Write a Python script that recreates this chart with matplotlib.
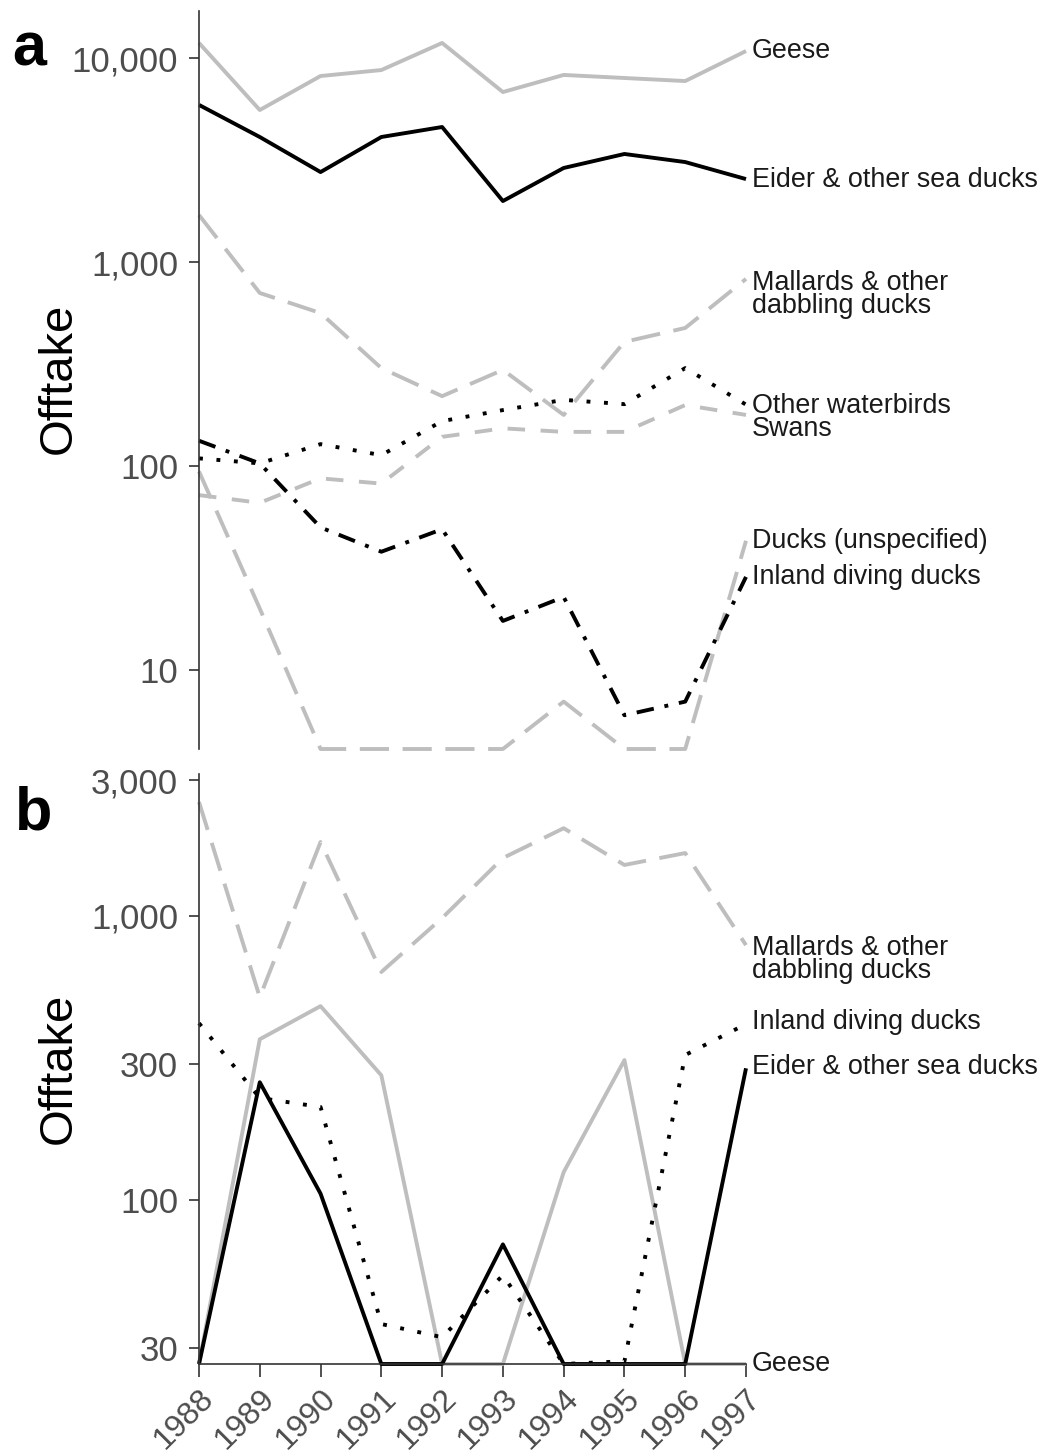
"Waterbird offtake, two log-scale panels"
import matplotlib
matplotlib.use("Agg")
import matplotlib.pyplot as plt
from matplotlib.ticker import FixedLocator, NullLocator

plt.rcParams["font.family"] = ["Liberation Sans", "DejaVu Sans"]

years = list(range(1988, 1998))

# panel a
a_floor = 4.1
a_geese = [11850, 5560, 8160, 8730, 11850, 6810, 8260, 7980, 7710, 10820]
a_eider = [5890, 4100, 2760, 4100, 4590, 1990, 2890, 3385, 3090, 2550]
a_mallards = [1700, 705, 562, 302, 220, 296, 178, 406, 475, 826]
a_other = [109, 103, 128, 113, 166, 188, 211, 201, 302, 200]
a_swans = [72, 66, 87, 82, 139, 153, 147, 147, 199, 178]
a_ducks = [94, 20, a_floor, a_floor, a_floor, a_floor, 7.0, a_floor, a_floor, 43]
a_inland = [133, 103, 50, 38, 49, 17.4, 22.8, 6.0, 7.0, 28.6]
a_ticks = [10, 100, 1000, 10000]
a_ticklabels = ["10", "100", "1,000", "10,000"]

# panel b
b_floor = 26.4
b_mallards = [2510, 516, 1815, 633, 980, 1594, 2030, 1507, 1660, 787]
b_geese = [b_floor, 367, 480, 274, b_floor, b_floor, 125, 310, b_floor, b_floor]
b_eider = [b_floor, 259, 105, b_floor, b_floor, 69.6, b_floor, b_floor, b_floor, 290]
b_inland = [418, 228, 212, 36.5, 32.8, 54.2, b_floor, 27, 323, 415]
b_ticks = [30, 100, 300, 1000, 3000]
b_ticklabels = ["30", "100", "300", "1,000", "3,000"]

GRAY = "#bebebe"
LW = 2.8
styles = {
    "solid": dict(linestyle="-"),
    "longdash": dict(dashes=(7.5, 3.5)),
    "dashed": dict(dashes=(4.5, 4.0)),
    "dotted": dict(dashes=(1, 3.5)),
    "dotdash": dict(dashes=(4.5, 2.8, 1, 2.8)),
}

W, H = 1044, 1456
fig = plt.figure(figsize=(W / 100, H / 100), dpi=100)
ax_a = fig.add_axes([199 / W, 1 - 749 / H, 547 / W, 738 / H])
ax_b = fig.add_axes([199 / W, 1 - 1364 / H, 547 / W, 590 / H])

panel_a = [
    (a_geese, GRAY, "solid", "Geese", 0),
    (a_mallards, GRAY, "longdash", "Mallards & other\ndabbling ducks", 16),
    (a_swans, GRAY, "dashed", "Swans", 14),
    (a_ducks, GRAY, "longdash", "Ducks (unspecified)", 0),
    (a_eider, "black", "solid", "Eider & other sea ducks", 1),
    (a_other, "black", "dotted", "Other waterbirds", 1),
    (a_inland, "black", "dotdash", "Inland diving ducks", 0),
]
panel_b = [
    (b_mallards, GRAY, "longdash", "Mallards & other\ndabbling ducks", 14),
    (b_geese, GRAY, "solid", "Geese", 0),
    (b_inland, "black", "dotted", "Inland diving ducks", -2),
    (b_eider, "black", "solid", "Eider & other sea ducks", -1),
]


def draw(ax, series, ylim, ticks, ticklabels):
    for vals, col, st, label, dy in series:
        ax.plot(years, vals, color=col, lw=LW, clip_on=False,
                solid_capstyle="butt", **styles[st])
        ax.annotate(label, xy=(years[-1], vals[-1]), xytext=(4, -dy * 0.72),
                    textcoords="offset points", ha="left", va="center",
                    fontsize=19.4, color="#1a1a1a", linespacing=0.85,
                    annotation_clip=False)
    ax.set_yscale("log")
    ax.set_ylim(*ylim)
    ax.set_xlim(years[0], years[-1])
    ax.yaxis.set_major_locator(FixedLocator(ticks))
    ax.yaxis.set_minor_locator(NullLocator())
    ax.set_yticklabels(ticklabels)
    for s in ["top", "right"]:
        ax.spines[s].set_visible(False)
    ax.spines["left"].set_color("#333333")
    ax.spines["left"].set_linewidth(1.2)
    ax.tick_params(axis="y", length=7, width=1.2, color="#333333",
                   labelsize=25, labelcolor="#4d4d4d", pad=8)
    ax.set_facecolor("none")


draw(ax_a, panel_a, (a_floor, 17000), a_ticks, a_ticklabels)
ax_a.spines["bottom"].set_visible(False)
ax_a.set_xticks([])

draw(ax_b, panel_b, (b_floor, 3150), b_ticks, b_ticklabels)
ax_b.spines["bottom"].set_color("#333333")
ax_b.spines["bottom"].set_linewidth(1.2)
ax_b.set_xticks(years)
ax_b.set_xticklabels([str(y) for y in years], rotation=45, ha="right",
                     va="top", rotation_mode="anchor")
ax_b.tick_params(axis="x", length=9, width=1.2, color="#333333",
                 labelsize=23, labelcolor="#4d4d4d", pad=5)

fig.text(59 / W, 1 - 378 / H, "Offtake", rotation=90, ha="center",
         va="center", fontsize=34)
fig.text(59 / W, 1 - 1068 / H, "Offtake", rotation=90, ha="center",
         va="center", fontsize=34)
fig.text(12 / W, 1 - 65 / H, "a", fontsize=44, fontweight="bold",
         va="baseline")
fig.text(15 / W, 1 - 830 / H, "b", fontsize=44, fontweight="bold",
         va="baseline")

fig.savefig("out.png", dpi=100)
